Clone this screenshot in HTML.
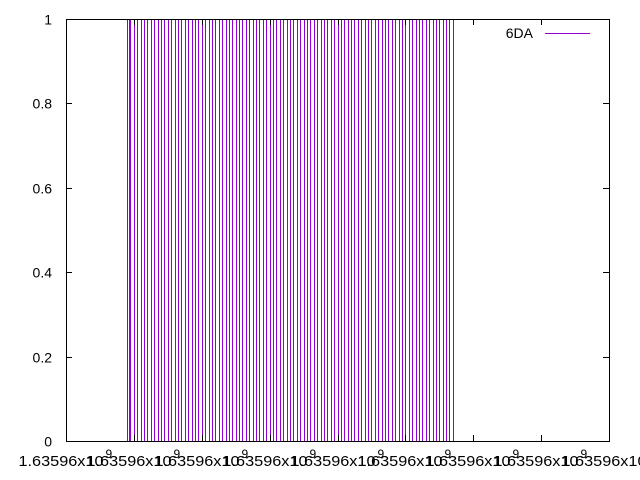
<!DOCTYPE html>
<html><head><meta charset="utf-8"><style>
body{margin:0;background:#fff}
svg{display:block;font-family:"Liberation Sans",sans-serif;font-size:14px}
</style></head><body>
<svg id="chart" width="640" height="480">
<rect x="0" y="0" width="640" height="480" fill="#fff"/>
<g id="marks"></g>
<g id="axes"></g>
<rect x="66.5" y="19.5" width="543" height="422" fill="none" stroke="#000" stroke-width="1"/>
<text x="533" y="38" text-anchor="end">6DA</text>
<line x1="545" y1="33.5" x2="590" y2="33.5" stroke="#9400d3" stroke-width="1"/>
</svg>
<script>
const xTicks=[0,20,40,60,80,100,120,140,160];
const xTickLabel="1.63596x10";
const yTicks=[0,0.2,0.4,0.6,0.8,1];
const yTickLabels=["0","0.2","0.4","0.6","0.8","1"];
const times=[18,18.5,19,20,21,22,23,24,25,26,27,28,29,30,31,32,33,34,35,36,37,38,39,40,41,42,43,44,45,46,47,48,49,50,51,52,53,54,55,56,57,58,59,60,61,62,63,64,65,66,67,68,69,70,71,72,73,74,75,76,77,78,79,80,81,82,83,84,85,86,87,88,89,90,91,92,93,94,95,96,97,98,99,100,101,102,103,104,105,106,107,108,109,110,111,112,113,114];
const values=times.map(()=>1);
const L=66,R=609,T=19,B=441;
const xs=v=>L+(v-0)/(160-0)*(R-L);
const ys=v=>B-(v-0)/(1-0)*(B-T);
const NS="http://www.w3.org/2000/svg";
const marks=document.getElementById('marks'),axes=document.getElementById('axes');
function mk(tag,attrs,parent){const e=document.createElementNS(NS,tag);for(const k in attrs)e.setAttribute(k,attrs[k]);parent.appendChild(e);return e;}
times.forEach((t,i)=>{
  const x=Math.round(xs(t))+0.5;
  const l=mk('line',{x1:x,x2:x,y1:ys(0),y2:ys(values[i]),stroke:'#9400d3','stroke-width':1},marks);
  
  
});
yTicks.forEach((v,i)=>{
  const y=Math.round(ys(v))+0.5;
  mk('line',{x1:L,x2:L+6,y1:y,y2:y,stroke:'#000'},axes);
  mk('line',{x1:R-6,x2:R,y1:y,y2:y,stroke:'#000'},axes);
  const t=mk('text',{x:52,y:y+5,'text-anchor':'end'},axes);
  t.textContent=yTickLabels[i];
  
  
});
xTicks.forEach(v=>{
  const x=Math.round(xs(v))+0.5;
  mk('line',{x1:x,x2:x,y1:B,y2:B-6,stroke:'#000'},axes);
  mk('line',{x1:x,x2:x,y1:T,y2:T+6,stroke:'#000'},axes);
  const t=mk('text',{x:x-48,y:466,textLength:85,lengthAdjust:'spacingAndGlyphs','font-size':'15px'},axes);
  t.textContent=xTickLabel;
  
  
  const s=mk('text',{x:x+39,y:458,'font-size':'12px'},axes);
  s.textContent="9";
  
  
});
</script>
</body></html>
